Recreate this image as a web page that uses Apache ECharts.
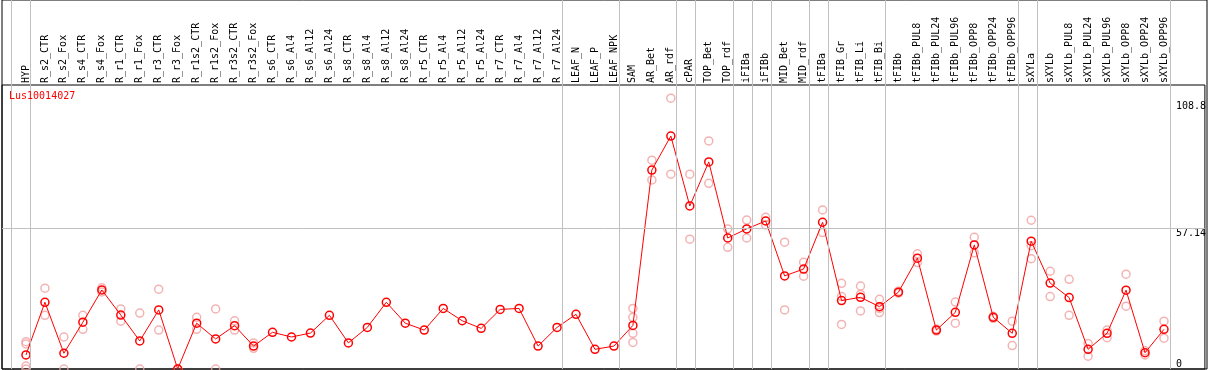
<!DOCTYPE html>
<html>
<head>
<meta charset="utf-8">
<script src="https://cdn.jsdelivr.net/npm/echarts@6/dist/echarts.min.js"></script>
<style>
html,body{margin:0;padding:0;background:#fff;}
#chart{width:1209px;height:370px;}
</style>
</head>
<body>
<div id="chart"></div>
<script>
const title = 'Lus10014027';
const categories = ['HYP','R_s2_CTR','R_s2_Fox','R_s4_CTR','R_s4_Fox','R_r1_CTR','R_r1_Fox','R_r3_CTR','R_r3_Fox','R_r1s2_CTR','R_r1s2_Fox','R_r3s2_CTR','R_r3s2_Fox','R_s6_CTR','R_s6_Al4','R_s6_Al12','R_s6_Al24','R_s8_CTR','R_s8_Al4','R_s8_Al12','R_s8_Al24','R_r5_CTR','R_r5_Al4','R_r5_Al12','R_r5_Al24','R_r7_CTR','R_r7_Al4','R_r7_Al12','R_r7_Al24','LEAF_N','LEAF_P','LEAF_NPK','SAM','AR_Bet','AR_rdf','cPAR','TOP_Bet','TOP_rdf','iFIBa','iFIBb','MID_Bet','MID_rdf','tFIBa','tFIB_Gr','tFIB_Li','tFIB_Bi','tFIBb','tFIBb_PUL8','tFIBb_PUL24','tFIBb_PUL96','tFIBb_OPP8','tFIBb_OPP24','tFIBb_OPP96','sXYLa','sXYLb','sXYLb_PUL8','sXYLb_PUL24','sXYLb_PUL96','sXYLb_OPP8','sXYLb_OPP24','sXYLb_OPP96'];
const means = [5.7,27.1,6.4,19.0,32.1,21.9,11.4,24.0,0,18.6,12.2,17.6,9.3,14.9,13.0,
  14.6,21.8,10.6,16.9,27.1,18.6,15.8,24.6,19.6,16.5,24.2,24.6,9.3,16.9,22.2,8.0,
  9.3,17.7,80.8,94.6,66.2,84.1,53.2,56.9,60.1,37.8,40.6,59.6,27.8,29.1,25.3,31.2,
  45.0,15.8,23.0,50.4,21.0,14.5,51.9,34.9,29.0,8.0,14.5,32.0,6.6,16.1];
const replicates = [
  [11.1,10.2,1.2,0],[32.8,21.8],[13.0,0],[21.8,16.1],[33.0,31.3],[24.4,19.4],[22.7,0],[32.4,15.8],[0,0],
  [21.0,16.1],[24.4,0],[19.6,15.8],[10.6,8.4],
  [],[],[],[],[],[],[],[],[],[],[],[],[],[],[],[],[],[],[],
  [24.6,21.0,14.5,10.8],[84.8,76.8],[110.0,79.1],[79.1,52.7],[92.6,75.4],[56.9,49.4],[60.5,53.2],[61.6,58.5],
  [51.5,24.0],[43.3,37.7],[64.6,55.4],[34.8,29.4,18.1],[33.7,30.3,23.6],[28.3,22.9,24.6],[31.6,30.8],
  [46.8,43.2],[16.2,15.4],[27.2,18.6],[53.5,47.2],[21.4,20.6],[19.4,9.5],[60.4,50.1,44.8],
  [39.7,29.4],[36.4,21.8],[10.4,5.2],[15.8,12.7],[38.5,25.5],[7.4,5.7],[19.4,12.5]
];
// group separators drawn after these category indices
const separatorsAfter = [-1,0,28,31,34,35,37,38,39,41,42,45,52,53,60];
const yTickLabels = [57.14, 108.8];
const yZeroLabel = [0];
const gridLineValue = 57.14;

const FONT = 'DejaVu Sans Mono';
const xMin = -24/19, xMax = -24/19 + 1205/19;
const yMax = 115.33;

const meanData = means.map((v,i)=>[i,v]);
const repData = [];
replicates.forEach((arr,i)=>arr.forEach(v=>repData.push([i,v])));
const sepOffset = 4.5/19;

const chart = echarts.init(document.getElementById('chart'), null, {renderer:'canvas'});
chart.setOption({
  animation:false,
  backgroundColor:'#fff',
  title:{text:title,left:4,top:86,textStyle:{color:'#ff0000',fontSize:10,fontWeight:'normal',fontFamily:FONT}},
  grid:[
    {left:2,right:2,top:85,bottom:1,show:true,borderColor:'#000',borderWidth:1,backgroundColor:'transparent'},
    {left:2,right:2,top:0,bottom:1,show:true,borderColor:'#000',borderWidth:1,backgroundColor:'transparent'}
  ],
  xAxis:[
    {type:'value',gridIndex:0,min:xMin,max:xMax,position:'top',
      axisLine:{show:false},axisTick:{show:false},splitLine:{show:false},
      axisLabel:{show:true,customValues:categories.map((c,i)=>i),rotate:90,margin:2,
        formatter:(v)=>categories[Math.round(v)]||'',color:'#000',fontSize:10,fontFamily:FONT}},
    {type:'value',gridIndex:1,min:xMin,max:xMax,show:false}
  ],
  yAxis:[
    {type:'value',gridIndex:0,min:0,max:yMax,position:'right',
      axisLine:{show:false},axisTick:{show:false},splitLine:{show:false},
      axisLabel:{inside:true,customValues:yTickLabels,align:'left',verticalAlign:'top',margin:29,
        color:'#000',fontSize:10,fontFamily:FONT,formatter:(v)=>String(v)}},
    {type:'value',gridIndex:0,min:0,max:yMax,position:'right',
      axisLine:{show:false},axisTick:{show:false},splitLine:{show:false},
      axisLabel:{inside:true,customValues:yZeroLabel,align:'left',verticalAlign:'bottom',margin:29,
        color:'#000',fontSize:10,fontFamily:FONT,formatter:(v)=>String(v)}},
    {type:'value',gridIndex:1,min:0,max:1,show:false}
  ],
  series:[
    {type:'scatter',xAxisIndex:1,yAxisIndex:2,data:[],silent:true,
      markLine:{silent:true,symbol:'none',label:{show:false},
        lineStyle:{color:'#c0c0c0',width:1,type:'solid'},
        data:separatorsAfter.map(i=>({xAxis:i+sepOffset}))}},
    {type:'scatter',xAxisIndex:0,yAxisIndex:0,data:[],silent:true,
      markLine:{silent:true,symbol:'none',label:{show:false},
        lineStyle:{color:'#c0c0c0',width:1,type:'solid'},
        data:[{yAxis:gridLineValue}]}},
    {type:'scatter',xAxisIndex:0,yAxisIndex:0,data:repData,symbol:'circle',symbolSize:8,
      itemStyle:{color:'rgba(0,0,0,0)',borderColor:'#f0a0a0',borderWidth:1.5},z:3},
    {type:'line',xAxisIndex:0,yAxisIndex:0,data:meanData,symbol:'circle',symbolSize:8,
      showAllSymbol:true,clip:false,
      lineStyle:{color:'#ff0000',width:1},
      itemStyle:{color:'rgba(0,0,0,0)',borderColor:'#ff0000',borderWidth:1.5},z:4}
  ]
});
</script>
</body>
</html>
